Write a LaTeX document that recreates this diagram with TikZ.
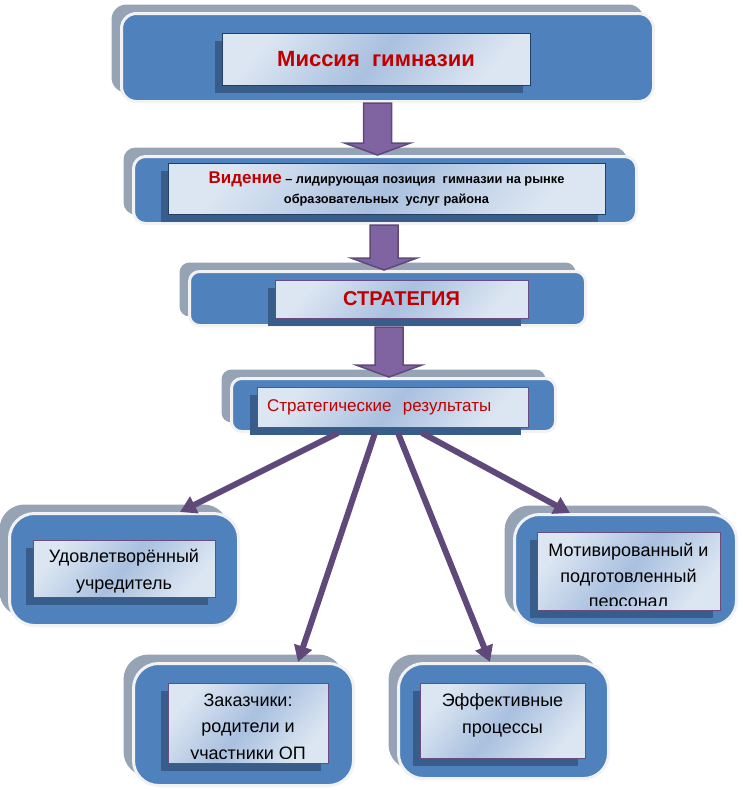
\documentclass[tikz,border=0pt]{standalone}
\usepackage{fontspec}
\setmainfont{Liberation Sans}
\usetikzlibrary{arrows.meta}
\usetikzlibrary{shadows}
\usetikzlibrary{calc}

\definecolor{panelblue}{HTML}{4F81BD}
\definecolor{panelgray}{HTML}{95A3B4}
\definecolor{panelrim}{HTML}{F2F2F2}
\definecolor{tagshadow}{HTML}{385D8A}
\definecolor{taglight}{HTML}{DCE6F2}
\definecolor{tagmid}{HTML}{A9C0DF}
\definecolor{tagnavy}{HTML}{243F60}
\definecolor{tagplum}{HTML}{6A4C7E}
\definecolor{arrowfill}{HTML}{8064A2}
\definecolor{arrowrim}{HTML}{5F497A}
\definecolor{titlered}{HTML}{C00000}

\tikzset{
	panel/.style={draw=panelrim, line width=3pt, fill=panelblue, rounded corners=#1,
		general shadow={shadow xshift=-10pt, shadow yshift=9pt, fill=panelgray}},
	panel/.default=12pt,
	tag/.style={draw=#1, line width=0.8pt, inner sep=0pt, align=center,
		top color=taglight, bottom color=taglight, middle color=tagmid, shading angle=50,
		general shadow={shadow xshift=-7pt, shadow yshift=-8pt, fill=tagshadow}},
	bignote/.style={font=\fontsize{18}{27}\selectfont, align=center},
	spoke/.style={draw=arrowrim, line width=6pt, -{Triangle[width=18pt,length=16pt]}},
	flow/.style={fill=arrowfill, draw=arrowrim, line width=1.5pt, line join=miter},
}

% block arrow from one panel down to the next
\newcommand{\flowdown}[3]{%
	\draw[flow] let \p1=([xshift=#3]#1.south), \p2=(#2.north) in
		(\x1-14pt,\y1) -- (\x1+14pt,\y1) -- (\x1+14pt,\y2+12pt) -- (\x1+33pt,\y2+12pt)
		-- (\x1,\y2) -- (\x1-33pt,\y2+12pt) -- (\x1-14pt,\y2+12pt) -- cycle;}

\begin{document}
\begin{tikzpicture}[x=1pt, y=-1pt]
	\useasboundingbox (0,0) rectangle (743,790);
	
	% panels
	\node[panel=15pt, minimum width=532pt, minimum height=88pt] (mission) at (387.5,57.5) {};
	\node[panel=12pt, minimum width=503pt, minimum height=67pt] (vision) at (385,190) {};
	\node[panel=10pt, minimum width=396pt, minimum height=54pt] (strategy) at (387.5,298.5) {};
	\node[panel=10pt, minimum width=324pt, minimum height=53pt] (results) at (393.5,405) {};
	\node[panel=25pt, minimum width=229pt, minimum height=112pt] (founder) at (124,569.5) {};
	\node[panel=25pt, minimum width=222pt, minimum height=111pt] (staff) at (625.5,570) {};
	\node[panel=25pt, minimum width=220pt, minimum height=122pt] (clients) at (243.5,724.5) {};
	\node[panel=25pt, minimum width=210pt, minimum height=115pt] (process) at (503.5,721) {};
	
	% labels
	\node[tag=tagnavy, minimum width=308pt, minimum height=52pt, text=titlered,
		font=\fontsize{22}{26}\selectfont\bfseries] (missiontag) at (376,59) {Миссия~~гимназии};
	\node[tag=tagnavy, minimum width=437pt, minimum height=51pt,
		font=\fontsize{12.8}{20}\selectfont\bfseries] (visiontag) at (386.5,188.5)
		{{\fontsize{17}{20}\selectfont\color{titlered}Видение} – лидирующая позиция~~гимназии на рынке\\
		образовательных~~услуг района};
	\node[tag=tagplum, minimum width=253pt, minimum height=38pt, text=titlered,
		font=\fontsize{20}{24}\selectfont\bfseries] (strategytag) at (401.5,299) {СТРАТЕГИЯ};
	\node[tag=tagplum, minimum width=271pt, minimum height=40pt, text=titlered,
		align=left, text width=251pt, inner xsep=10pt,
		font=\fontsize{17}{20}\selectfont] (resultstag) at (392.5,407) {Стратегические~~результаты};
	\node[tag=tagplum, minimum width=182pt, minimum height=57pt] (foundertag) at (124,568.5) {};
	\node[bignote] (foundertext) at ([yshift=-3pt]foundertag.center)
		{Удовлетворённый\\учредитель};
	\node[tag=tagplum, minimum width=183pt, minimum height=78pt] (stafftag) at (628.5,571) {};
	\begin{scope}
		\clip (stafftag.north west) rectangle ([yshift=5pt]stafftag.south east);
		\node[bignote, font=\fontsize{18}{25.5}\selectfont] (stafftext)
			at ([yshift=-6.5pt]stafftag.center) {Мотивированный и\\подготовленный\\персонал};
	\end{scope}
	\node[tag=tagplum, minimum width=160pt, minimum height=80pt] (clientstag) at (248,723) {};
	\begin{scope}
		\clip (clientstag.north west) rectangle ([yshift=5pt]clientstag.south east);
		\node[bignote, font=\fontsize{18}{26.5}\selectfont] (clientstext)
			at ([yshift=-5.5pt]clientstag.center) {Заказчики:\\родители и\\участники ОП};
	\end{scope}
	\node[tag=tagplum, minimum width=165pt, minimum height=75pt] (processtag) at (502.5,720.5) {};
	\node[bignote] (processtext) at ([yshift=5pt]processtag.center) {Эффективные\\процессы};
	
	% block arrows
	\flowdown{mission}{vision}{-10pt}
	\flowdown{vision}{strategy}{-1pt}
	\flowdown{strategy}{results}{1.5pt}
	
	% result arrows
	\draw[spoke] ([xshift=-55.5pt]results.south) -- ([xshift=56pt]founder.north);
	\draw[spoke] ([xshift=-18.5pt]results.south) -- ([xshift=54.5pt]clients.north);
	\draw[spoke] ([xshift=4.5pt]results.south) -- ([xshift=-13.5pt]process.north);
	\draw[spoke] ([xshift=28.5pt]results.south) -- ([xshift=-55.5pt]staff.north);
\end{tikzpicture}
\end{document}
